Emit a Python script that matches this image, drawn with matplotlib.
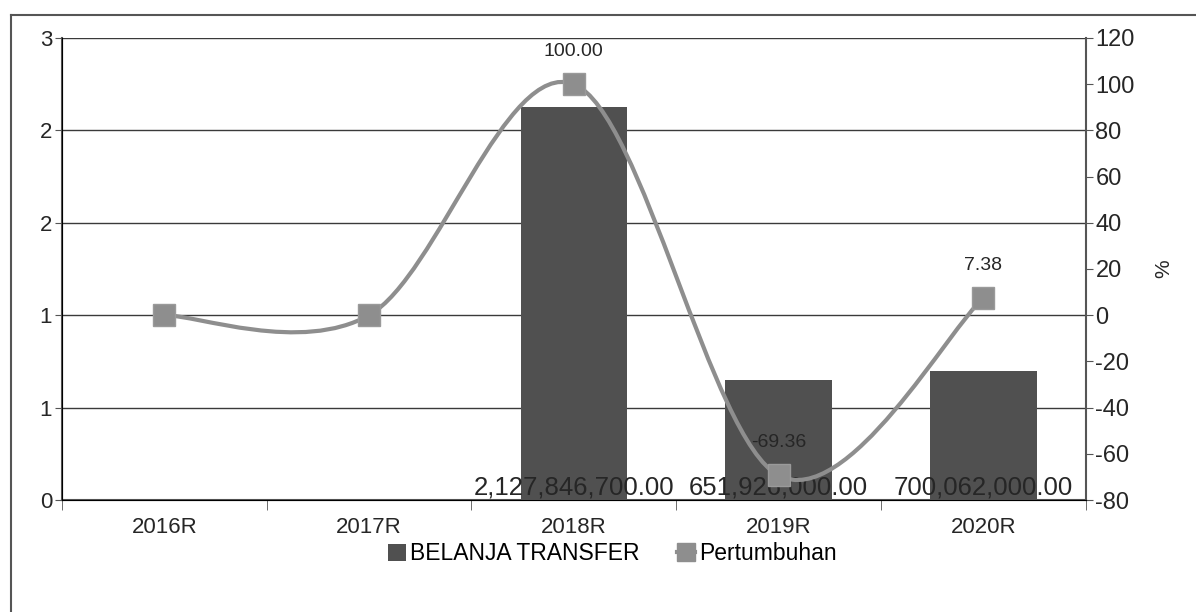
import numpy as np
import matplotlib
matplotlib.use("Agg")
import matplotlib.pyplot as plt
from matplotlib.path import Path
from matplotlib.patches import PathPatch, Patch
from matplotlib.lines import Line2D
from matplotlib.ticker import FixedLocator, FuncFormatter
from decimal import Decimal, ROUND_HALF_UP

plt.rcParams['font.family'] = ['Liberation Sans', 'DejaVu Sans']
plt.rcParams['axes.unicode_minus'] = False

# Data
years = ['2016R', '2017R', '2018R', '2019R', '2020R']
belanja = [0, 0, 2127846700.00, 651926000.00, 700062000.00]
growth = [0, 0, 100.00, -69.36, 7.38]
bar_labels = ['', '', '2,127,846,700.00', '651,926,000.00', '700,062,000.00']
growth_labels = ['', '', '100.00', '-69.36', '7.38']

BAR_COLOR = '#505050'
LINE_COLOR = '#8e8e8e'
GRID_COLOR = '#3a3a3a'
TEXT_COLOR = '#262626'

fig = plt.figure(figsize=(11.96, 6.12), dpi=100)
ax = fig.add_axes([0.0518, 0.183, 0.856, 0.755])
ax2 = ax.twinx()

x = np.arange(len(years))
vals_bn = np.array(belanja) / 1e9
ax.bar(x, vals_bn, width=0.52, color=BAR_COLOR, zorder=2)
ax.set_xlim(-0.5, len(years) - 0.5)
ax.set_ylim(0, 2.5)


def half_up(v, pos):
    # whole-number labels, halves rounded upward
    return str(Decimal(str(v)).quantize(Decimal('1'), rounding=ROUND_HALF_UP))


ax.yaxis.set_major_locator(FixedLocator([0, 0.5, 1.0, 1.5, 2.0, 2.5]))
ax.yaxis.set_major_formatter(FuncFormatter(half_up))
ax.grid(axis='y', color=GRID_COLOR, linewidth=1.0, zorder=0)
ax.set_axisbelow(True)

ax.set_xticks(x)
ax.set_xticklabels(years)
ax.set_xticks(np.arange(-0.5, len(years), 1.0), minor=True)
ax.tick_params(axis='x', which='major', length=0, pad=12, labelsize=16, colors=TEXT_COLOR)
ax.tick_params(axis='x', which='minor', length=7, direction='out', color='#555555')
ax.tick_params(axis='y', length=5, direction='out', pad=2, labelsize=16,
               colors=TEXT_COLOR, color='#555555')

ax.spines['top'].set_visible(False)
ax2.spines['top'].set_visible(False)
for s in ['left', 'bottom']:
    ax.spines[s].set_color('#555555')
    ax.spines[s].set_linewidth(1.5)
ax2.spines['right'].set_color('#555555')
ax2.spines['right'].set_linewidth(1.5)
ax.spines['right'].set_visible(False)

# value labels along the base of the bars
for xi, lbl in zip(x, bar_labels):
    if lbl:
        ax.text(xi, 0.004, lbl, ha='center', va='bottom', fontsize=18.5,
                color=TEXT_COLOR, zorder=5)

# growth line on the secondary axis, smoothed with Catmull-Rom bezier segments
ax2.set_ylim(-80, 120)
ax2.set_yticks(np.arange(-80, 121, 20))
ax2.tick_params(axis='y', length=5, direction='out', pad=2, labelsize=17,
                colors=TEXT_COLOR, color='#555555')
ax2.set_ylabel('%', fontsize=15, rotation=90, labelpad=14, color=TEXT_COLOR)

pts = np.column_stack([x, growth]).astype(float)
verts = [pts[0]]
codes = [Path.MOVETO]
for i in range(len(pts) - 1):
    p0 = pts[i - 1] if i > 0 else pts[i]
    p1, p2 = pts[i], pts[i + 1]
    p3 = pts[i + 2] if i + 2 < len(pts) else pts[i + 1]
    c1 = p1 + (p2 - p0) / 6.0
    c2 = p2 - (p3 - p1) / 6.0
    verts += [c1, c2, p2]
    codes += [Path.CURVE4] * 3
curve = PathPatch(Path(verts, codes), facecolor='none', edgecolor=LINE_COLOR,
                  linewidth=3, zorder=3, capstyle='round')
ax2.add_patch(curve)
ax2.plot(x, growth, linestyle='none', marker='s', markersize=16.5,
         markerfacecolor=LINE_COLOR, markeredgecolor='#9a9a9a', zorder=4)

for xi, g, lbl in zip(x, growth, growth_labels):
    if lbl:
        ax2.annotate(lbl, (xi, g), xytext=(0, 23.5), textcoords='offset points',
                     ha='center', va='center', fontsize=14, color=TEXT_COLOR, zorder=5)

# legend
handles = [Patch(facecolor=BAR_COLOR, edgecolor='none'),
           Line2D([0], [0], color=LINE_COLOR, linewidth=3, marker='s',
                  markersize=13, markerfacecolor=LINE_COLOR, markeredgecolor=LINE_COLOR)]
fig.legend(handles, ['BELANJA TRANSFER', 'Pertumbuhan'], loc='center',
           bbox_to_anchor=(0.512, 0.095), ncol=2, frameon=False, fontsize=16.5,
           handlelength=0.8, handleheight=0.8, handletextpad=0.2, columnspacing=1.6)

# outer frame (top and left edges)
fig.add_artist(Line2D([0.0092, 0.0092], [0.0, 0.9755], transform=fig.transFigure,
                      color='#555555', linewidth=1.5))
fig.add_artist(Line2D([0.0092, 1.0], [0.9755, 0.9755], transform=fig.transFigure,
                      color='#555555', linewidth=1.5))

fig.savefig('out.png', dpi=100)
